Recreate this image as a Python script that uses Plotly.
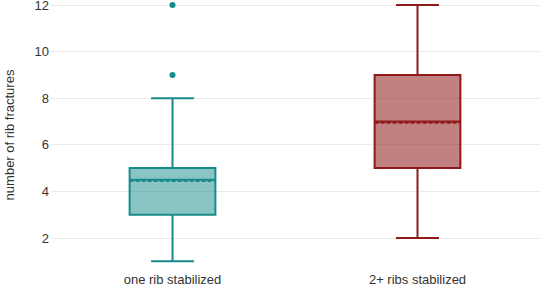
import plotly.graph_objects as go

groups = ["one rib stabilized", "2+ ribs stabilized"]
q1 = [3, 5]
median = [4.5, 7]
q3 = [5, 9]
lower = [1, 2]
upper = [8, 12]
mean = [4.45, 6.95]
outlier_x = ["one rib stabilized", "one rib stabilized"]
outlier_y = [9, 12]

line_colors = ["#178a8a", "#8f1a1a"]
fill_colors = ["rgba(23,138,138,0.5)", "rgba(143,26,26,0.55)"]

fig = go.Figure()
for i, g in enumerate(groups):
    fig.add_trace(go.Box(
        x=[g], q1=[q1[i]], median=[median[i]], q3=[q3[i]],
        lowerfence=[lower[i]], upperfence=[upper[i]], mean=[mean[i]],
        boxmean=True, line=dict(color=line_colors[i], width=2),
        fillcolor=fill_colors[i], whiskerwidth=0.5, showlegend=False,
    ))
fig.add_trace(go.Scatter(
    x=outlier_x, y=outlier_y, mode="markers",
    marker=dict(color=line_colors[0], size=6), showlegend=False,
))

fig.update_layout(
    width=540, height=289,
    margin=dict(l=50, r=0, t=0, b=19),
    plot_bgcolor="white", paper_bgcolor="white",
    font=dict(family="Liberation Sans, Arial, sans-serif", size=13, color="#333"),
    boxgap=0.5,
    xaxis=dict(categoryorder="array", categoryarray=groups, showgrid=False,
               zeroline=False, showline=False, ticks="", automargin=False,
               tickfont=dict(size=13)),
    yaxis=dict(range=[0.627, 12.215], tickvals=[2, 4, 6, 8, 10, 12], automargin=False,
               ticklabeloverflow="allow",
               showgrid=True, gridcolor="#ebebeb", zeroline=False, showline=False,
               title=dict(text="number of rib fractures", font=dict(size=13), standoff=16),
               tickfont=dict(size=13)),
)
fig.write_html("out.html", config={"displayModeBar": False},
               post_script="document.body.style.margin='0';document.body.style.padding='0';")
